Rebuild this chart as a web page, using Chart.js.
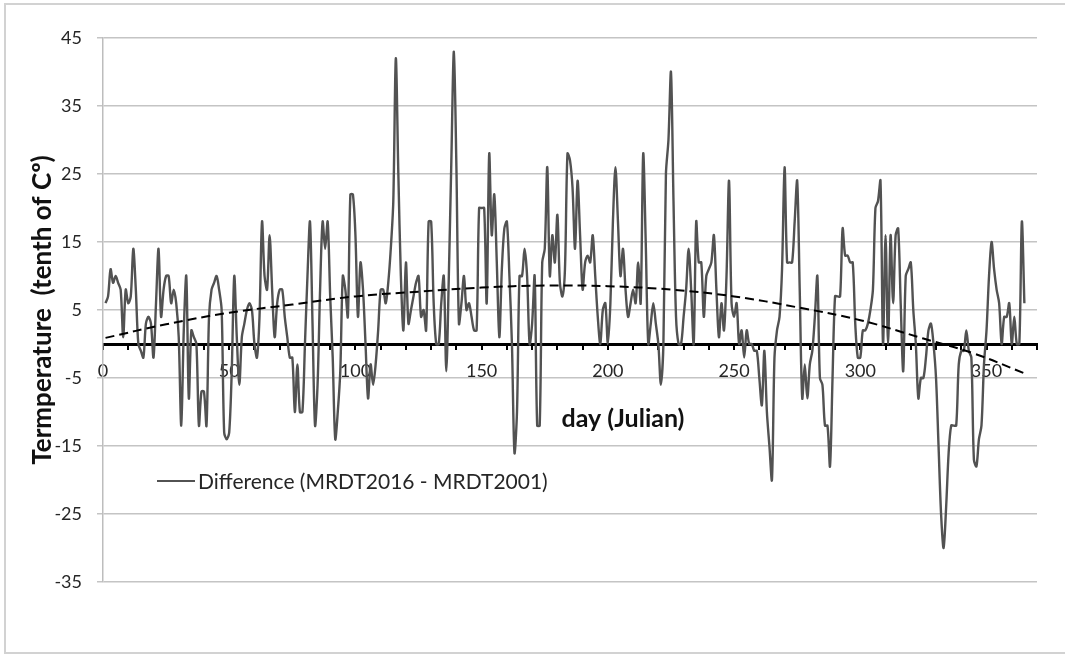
<!DOCTYPE html>
<html>
<head>
<meta charset="utf-8">
<script src="https://cdn.jsdelivr.net/npm/chart.js@4.4.1/dist/chart.umd.min.js"></script>
<style>
  html, body { margin: 0; padding: 0; background: #ffffff; overflow: hidden; }
  #wrap { position: relative; width: 1065px; height: 654px; overflow: hidden; }
  #frame { position: absolute; left: 4px; top: 3px; width: 1100px; height: 647px; border-left: 2px solid #d2d2d2; border-top: 2px solid #d2d2d2; border-bottom: 2px solid #d2d2d2; pointer-events: none; }
  canvas { position: absolute; left: 0; top: 0; }
</style>
</head>
<body>
<div id="wrap">
  <canvas id="c" width="1065" height="654"></canvas>
  <div id="frame"></div>
</div>
<script>
// ---- data ----
const firstDay = 1;
const diffValues = [
  6, 7, 11, 9, 10, 9, 8, 1, 8, 6,
  7, 14, 8, 0, -1, -2, 3, 4, 3, -2,
  6, 14, 4, 8, 10, 10, 6, 8, 6, 1,
  -12, 2, 10, -8, 2, 1, 0, -12, -7, -7,
  -12, 4, 8, 9, 10, 8, 5, -13, -14, -13,
  -4, 10, 1, -6, 1, 3, 5, 6, 5, 0,
  -2, 4, 18, 10, 8, 16, 8, 1, 6, 8,
  8, 4, 1, -2, -2, -10, -3, -10, -10, 0,
  10, 18, 3, -12, -6, 8, 18, 14, 18, 7,
  -2, -14, -10, -4, 10, 8, 4, 22, 22, 16,
  4, 12, 8, 0, -8, -3, -6, -3, 2, 8,
  8, 6, 9, 14, 21, 42, 25, 10, 2, 12,
  3, 5, 7, 9, 10, 4, 5, 2, 18, 18,
  6, 0, 0, 6, 10, -4, 10, 27, 43, 26,
  3, 6, 10, 5, 6, 4, 2, 2, 20, 20,
  20, 6, 28, 16, 22, 12, 1, 11, 17, 18,
  10, 0, -16, -10, 10, 10, 14, 10, 0, 3,
  10, -12, -12, 12, 14, 26, 10, 16, 12, 19,
  9, 7, 11, 28, 27, 23, 14, 24, 16, 8,
  12, 13, 12, 16, 10, 4, 0, 5, 6, 0,
  6, 18, 26, 18, 10, 14, 8, 4, 6, 8,
  6, 12, 6, 28, 15, 0, 3, 6, 3, 0,
  -6, 0, 25, 30, 40, 21, 4, 0, 0, 4,
  8, 14, 8, 0, 18, 12, 12, 4, 10, 11,
  12, 16, 8, 1, 6, 2, 10, 24, 6, 4,
  6, 0, 2, -2, 2, 0, 0, -1, -1, -5,
  -9, -1, -10, -15, -20, -2, 2, 4, 11, 26,
  12, 12, 12, 18, 24, 8, -8, -3, -8, -3,
  -1, 4, 10, -5, -6, -12, -12, -18, -5, 7,
  7, 7, 17, 13, 13, 12, 12, 3, -2, -2,
  2, 2, 3, 5, 8, 20, 21, 24, 0, 16,
  0, 16, 6, 16, 17, 6, -4, 10, 11, 12,
  5, 0, -8, -5, -5, -2, 2, 3, 0, -5,
  -15, -25, -30, -24, -16, -12, -12, -12, -3, -1,
  -1, 2, -1, -2, -17, -18, -14, -12, -3, 2,
  10, 15, 11, 8, 6, 0, 4, 4, 6, 0,
  4, 0, 0, 18, 6
];
const trendDays   = [1, 25, 50, 75, 100, 125, 150, 175, 200, 225, 250, 275, 300, 325, 345, 365];
const trendValues = [0.9, 2.9, 4.6, 5.8, 7.0, 7.7, 8.3, 8.6, 8.5, 8.0, 7.0, 5.4, 3.5, 0.8, -1.4, -4.3];
const xTickLabels = [0, 50, 100, 150, 200, 250, 300, 350];
const yTickLabels = [-35, -25, -15, -5, 5, 15, 25, 35, 45];
const seriesLabel = 'Difference (MRDT2016 - MRDT2001)';
const xTitle = 'day (Julian)';
const yTitle = 'Termperature  (tenth of C\u00BA)';

// ---- build library structures ----
const diffPoints = diffValues.map((v, i) => ({ x: firstDay + i, y: v }));
const trendPoints = trendDays.map((d, i) => ({ x: d, y: trendValues[i] }));

Chart.defaults.font.family = 'Lato, "Open Sans", sans-serif';

const annotations = {
  id: 'annotations',
  afterDraw(chart) {
    const { ctx, chartArea } = chart;
    const ds = chart.data.datasets[0];
    ctx.save();
    const ly = chartArea.top + 443;
    ctx.strokeStyle = ds.borderColor;
    ctx.lineWidth = 2;
    ctx.beginPath();
    ctx.moveTo(chartArea.left + 54, ly);
    ctx.lineTo(chartArea.left + 92, ly);
    ctx.stroke();
    ctx.fillStyle = '#262626';
    ctx.font = '21px Lato';
    ctx.textAlign = 'left';
    ctx.textBaseline = 'middle';
    ctx.fillText(ds.label, chartArea.left + 95, ly + 1);
    ctx.font = 'bold 25px Lato';
    ctx.fillStyle = '#111111';
    ctx.textAlign = 'center';
    ctx.textBaseline = 'alphabetic';
    ctx.fillText(xTitle, chartArea.left + 520, chartArea.top + 389);
    ctx.restore();
  }
};

new Chart(document.getElementById('c'), {
  type: 'line',
  data: {
    datasets: [
      {
        label: seriesLabel,
        data: diffPoints,
        borderColor: '#525252',
        borderWidth: 2.4,
        pointRadius: 0,
        tension: 0.3,
        fill: false,
        order: 2
      },
      {
        label: 'Trend',
        data: trendPoints,
        borderColor: '#000000',
        borderWidth: 2,
        borderDash: [9, 5],
        pointRadius: 0,
        tension: 0.4,
        fill: false,
        order: 1
      }
    ]
  },
  options: {
    responsive: false,
    animation: false,
    layout: { padding: { left: 0, right: 28, top: 38, bottom: 72 } },
    plugins: {
      legend: { display: false },
      tooltip: { enabled: false }
    },
    scales: {
      x: {
        type: 'linear',
        position: { y: 0 },
        min: 0,
        max: 370,
        grid: { drawOnChartArea: false, drawTicks: true, tickLength: 4, color: '#000000', lineWidth: 2 },
        border: { display: true, color: '#000000', width: 3 },
        ticks: {
          stepSize: 10,
          autoSkip: false,
          maxRotation: 0,
          padding: 12,
          color: '#262626',
          font: { size: 18 },
          callback: (v) => (xTickLabels.includes(v) ? String(v) : '')
        }
      },
      y: {
        type: 'linear',
        position: 'left',
        min: yTickLabels[0],
        max: yTickLabels[yTickLabels.length - 1],
        afterFit: (s) => { s.width = 103; },
        grid: { color: '#c4c4c4', lineWidth: 1.5, tickLength: 6, drawTicks: true },
        border: { display: true, color: '#bdbdbd', width: 1.5 },
        ticks: {
          stepSize: 10,
          padding: 15,
          color: '#262626',
          font: { size: 18 }
        },
        title: {
          display: true,
          text: yTitle,
          color: '#111111',
          font: { size: 26, weight: 'bold' },
          padding: { top: 27, bottom: 0 }
        }
      }
    }
  },
  plugins: [annotations]
});
</script>
</body>
</html>
